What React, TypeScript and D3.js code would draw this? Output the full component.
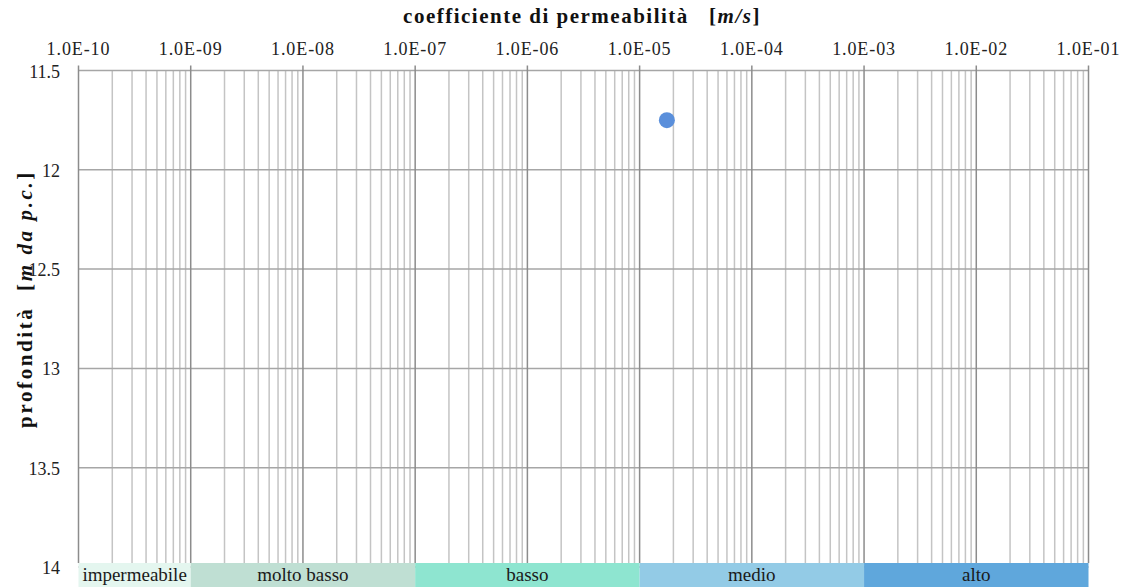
import React, { useEffect, useRef } from 'react';
import * as d3 from 'd3';

// decade ticks along the top axis
const kTicks = [1e-10, 1e-9, 1e-8, 1e-7, 1e-6, 1e-5, 1e-4, 1e-3, 1e-2, 1e-1];
const kTickLabels = ['1.0E-10', '1.0E-09', '1.0E-08', '1.0E-07', '1.0E-06', '1.0E-05', '1.0E-04', '1.0E-03', '1.0E-02', '1.0E-01'];
const depthTicks = [11.5, 12, 12.5, 13, 13.5, 14];
const depthLabels = ['11.5', '12', '12.5', '13', '13.5', '14'];

// permeability classes (bottom band)
const classNames = ['impermeabile', 'molto basso', 'basso', 'medio', 'alto'];
const classFrom = [1e-10, 1e-9, 1e-7, 1e-5, 1e-3];
const classTo = [1e-9, 1e-7, 1e-5, 1e-3, 1e-1];
const classColors = ['#e4f6ef', '#bfdfd3', '#8ee5d0', '#93cbe6', '#5fa7dc'];

// measured point
const pointK = [1.75e-5];
const pointDepth = [11.75];

const W = 1126, H = 587;
const margin = { top: 70.5, right: 37.5, bottom: 20, left: 78.5 };

export default function App() {
  const ref = useRef<SVGSVGElement>(null);

  useEffect(() => {
    const svg = d3.select(ref.current);
    svg.selectAll('*').remove();
    const font = '"Liberation Serif", "Times New Roman", serif';

    const x = d3.scaleLog().domain([1e-10, 1e-1]).range([margin.left, W - margin.right]);
    const y = d3.scaleLinear().domain([11.5, 14]).range([margin.top, H - margin.bottom]);
    const bandTop = 563;

    // minor vertical gridlines
    const minors: number[] = [];
    for (let i = 0; i < kTicks.length - 1; i++) {
      for (let m = 2; m <= 9; m++) minors.push(kTicks[i] * m);
    }
    svg.append('g').selectAll('line').data(minors).join('line')
      .attr('x1', d => x(d)).attr('x2', d => x(d))
      .attr('y1', margin.top).attr('y2', bandTop)
      .attr('stroke', '#c4c4c4').attr('stroke-width', 1.5);

    // horizontal gridlines
    svg.append('g').selectAll('line').data(depthTicks).join('line')
      .attr('x1', margin.left).attr('x2', W - margin.right)
      .attr('y1', d => y(d)).attr('y2', d => y(d))
      .attr('stroke', '#a6a6a6').attr('stroke-width', 1.5);

    // major vertical lines + ticks above
    svg.append('g').selectAll('line').data(kTicks).join('line')
      .attr('x1', d => x(d)).attr('x2', d => x(d))
      .attr('y1', margin.top - 5).attr('y2', bandTop)
      .attr('stroke', '#8c8c8c').attr('stroke-width', 1.5);

    // top labels
    svg.append('g').selectAll('text').data(kTicks).join('text')
      .attr('x', d => x(d)).attr('y', 55)
      .attr('text-anchor', 'middle')
      .attr('font-family', font).attr('font-size', 18).attr('letter-spacing', 0.9).attr('fill', '#222')
      .text((d, i) => kTickLabels[i]);

    // left labels
    svg.append('g').selectAll('text').data(depthTicks).join('text')
      .attr('x', 60).attr('y', d => y(d) + 7)
      .attr('text-anchor', 'end')
      .attr('font-family', font).attr('font-size', 18).attr('fill', '#222')
      .text((d, i) => depthLabels[i]);

    // class band
    const band = svg.append('g');
    band.selectAll('rect').data(classNames).join('rect')
      .attr('x', (d, i) => x(classFrom[i])).attr('y', bandTop)
      .attr('width', (d, i) => x(classTo[i]) - x(classFrom[i]))
      .attr('height', H - bandTop)
      .attr('fill', (d, i) => classColors[i]);
    band.selectAll('text').data(classNames).join('text')
      .attr('x', (d, i) => (x(classFrom[i]) + x(classTo[i])) / 2)
      .attr('y', 581)
      .attr('text-anchor', 'middle')
      .attr('font-family', font).attr('font-size', 19).attr('fill', '#1a1a1a')
      .text(d => d);

    // data point
    svg.append('g').selectAll('circle').data(pointK).join('circle')
      .attr('cx', d => x(d)).attr('cy', (d, i) => y(pointDepth[i]))
      .attr('r', 8).attr('fill', '#5a8fdb');

    // titles
    const t = svg.append('text')
      .attr('x', 582).attr('y', 23).attr('text-anchor', 'middle')
      .attr('font-family', font).attr('font-size', 21).attr('letter-spacing', 1.5)
      .attr('font-weight', 'bold').attr('fill', '#111');
    t.append('tspan').text('coefficiente di permeabilità\u00a0\u00a0\u00a0[');
    t.append('tspan').attr('font-style', 'italic').text('m/s');
    t.append('tspan').text(']');

    const yt = svg.append('text')
      .attr('transform', 'translate(32,299) rotate(-90)').attr('text-anchor', 'middle')
      .attr('font-family', font).attr('font-size', 21).attr('letter-spacing', 2.6)
      .attr('font-weight', 'bold').attr('fill', '#111');
    yt.append('tspan').text('profondità\u00a0\u00a0[');
    yt.append('tspan').attr('font-style', 'italic').text('m da p.c.');
    yt.append('tspan').text(']');
  }, []);

  return (
    <svg ref={ref} width={W} height={H} style={{ position: 'absolute', left: 0, top: 0 }} />
  );
}
